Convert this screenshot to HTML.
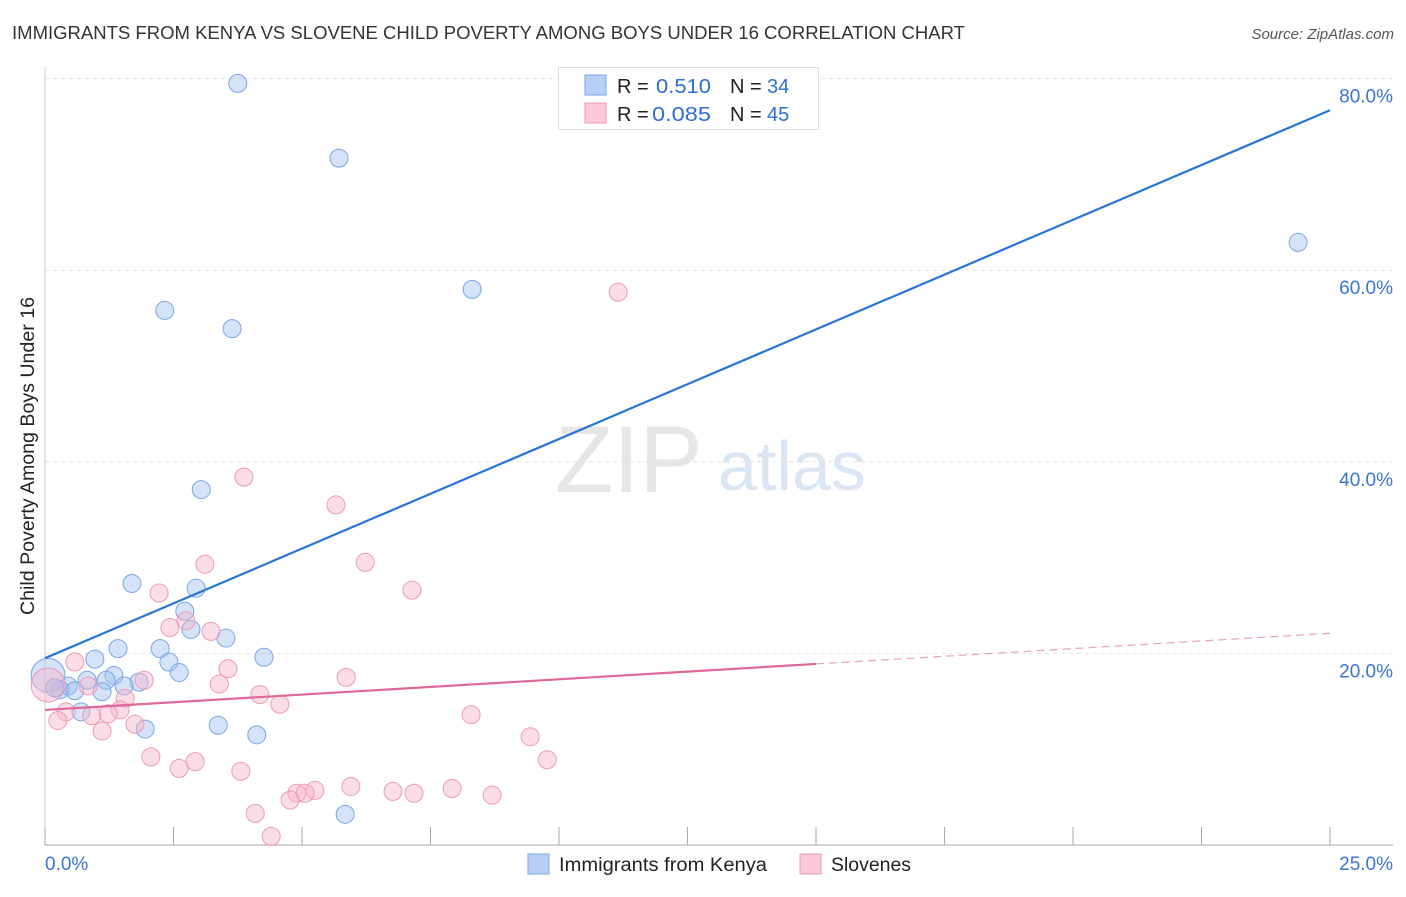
<!DOCTYPE html>
<html><head><meta charset="utf-8"><style>
body{margin:0;background:#fff;font-family:"Liberation Sans",sans-serif;}
svg text{font-family:"Liberation Sans",sans-serif;}
</style></head><body>
<svg id="chart" width="1406" height="892">
<text x="12" y="39" font-size="18" fill="#333" textLength="953" lengthAdjust="spacingAndGlyphs">IMMIGRANTS FROM KENYA VS SLOVENE CHILD POVERTY AMONG BOYS UNDER 16 CORRELATION CHART</text>
<text x="1394" y="39" font-size="15" fill="#555" text-anchor="end" font-style="italic">Source: ZipAtlas.com</text>
<text x="34" y="456" font-size="19" fill="#222" text-anchor="middle" textLength="318" lengthAdjust="spacingAndGlyphs" transform="rotate(-90 34 456)">Child Poverty Among Boys Under 16</text>
<text x="555" y="492" font-size="95" fill="#e6e6e6" font-family="Liberation Serif">ZIP</text>
<text x="718" y="490" font-size="70" fill="#dbe6f5">atlas</text>
<g id="grid"></g><g id="marks"></g>
<g>
<rect x="558.5" y="67.5" width="260" height="62" fill="#fff" stroke="#ddd"/>
<rect x="585" y="75" width="21" height="20" fill="#b8d0f5" stroke="#7aa6e8"/>
<rect x="585" y="103" width="21" height="20" fill="#fbc8d8" stroke="#ee9ab5"/>
<text x="617" y="93" font-size="20" fill="#222">R = </text><text x="656" y="93" font-size="20" fill="#2f6fd0" textLength="55" lengthAdjust="spacingAndGlyphs">0.510</text>
<text x="730" y="93" font-size="20" fill="#222">N = </text><text x="767" y="93" font-size="20" fill="#2f6fd0">34</text>
<text x="617" y="121" font-size="20" fill="#222">R = </text><text x="652" y="121" font-size="20" fill="#2f6fd0" textLength="59" lengthAdjust="spacingAndGlyphs">0.085</text>
<text x="730" y="121" font-size="20" fill="#222">N = </text><text x="767" y="121" font-size="20" fill="#2f6fd0">45</text>
</g>
<g>
<rect x="528" y="854" width="21" height="20" fill="#b8d0f5" stroke="#7aa6e8"/>
<text x="559" y="871" font-size="19" fill="#222" textLength="208" lengthAdjust="spacingAndGlyphs">Immigrants from Kenya</text>
<rect x="800" y="854" width="21" height="20" fill="#fbc8d8" stroke="#ee9ab5"/>
<text x="831" y="871" font-size="19" fill="#222" textLength="80" lengthAdjust="spacingAndGlyphs">Slovenes</text>
</g>
</svg>
<script>
const yTicks=[20,40,60,80];
const yTickLabels=["20.0%","40.0%","60.0%","80.0%"];
const xTicks=[0,2.5,5,7.5,10,12.5,15,17.5,20,22.5,25];
const kenyaX=[3.75,5.72,24.38,8.31,2.33,3.64,3.04,1.69,2.94,2.72,2.84,3.52,2.24,1.42,4.26,0.97,2.41,2.61,1.34,0.82,1.19,1.83,1.54,0.45,0.06,0.29,0.58,1.11,0.70,3.37,1.95,4.12,5.84,0.19];
const kenyaY=[79.5,71.7,62.9,58.0,55.8,53.9,37.1,27.3,26.8,24.4,22.5,21.6,20.5,20.5,19.6,19.4,19.1,18.0,17.7,17.2,17.2,17.0,16.6,16.6,17.7,16.2,16.1,16.0,13.9,12.5,12.1,11.5,3.2,16.4];
const sloX=[11.15,3.87,5.66,6.23,3.11,7.14,2.22,2.74,2.43,3.23,3.56,1.93,0.58,5.86,0.84,3.39,0.06,4.18,1.56,4.57,0.41,1.46,0.25,1.23,0.91,8.29,1.75,1.11,9.44,2.06,9.77,2.92,2.61,3.81,5.95,5.25,4.90,5.06,4.77,6.77,7.18,7.92,8.70,4.09,4.40];
const sloY=[57.7,38.4,35.5,29.5,29.3,26.6,26.3,23.4,22.7,22.3,18.4,17.2,19.1,17.5,16.6,16.8,16.7,15.7,15.3,14.7,13.9,14.1,13.0,13.7,13.5,13.6,12.6,11.9,11.3,9.2,8.9,8.7,8.0,7.7,6.1,5.7,5.4,5.4,4.7,5.6,5.4,5.9,5.2,3.3,0.9];
const kenyaBig=[24];
const sloBig=[16];
const kenyaLine=[19.5,76.7];
const sloLine=[14.1,22.1];
const sloSolidEnd=15.0;

const NS="http://www.w3.org/2000/svg";
const sx=v=>45+v*(1285/25);
const sy=v=>845-v*9.58;
function mk(tag,attrs,parent){const e=document.createElementNS(NS,tag);for(const k in attrs)e.setAttribute(k,attrs[k]);parent.appendChild(e);return e;}
const grid=document.getElementById('grid'),marks=document.getElementById('marks');
yTicks.forEach((t,i)=>{
 const l=mk('line',{x1:45,x2:1393,y1:sy(t),y2:sy(t),stroke:'#e2e2e2','stroke-dasharray':'4,4'},grid);
 
 
 const tx=mk('text',{x:1393,y:sy(t)+24,'font-size':19,fill:'#3a75d0','text-anchor':'end'},grid);
 tx.textContent=yTickLabels[i];
 
 
});
const ax=mk('line',{x1:45,x2:1393,y1:845,y2:845,stroke:'#aaa'},grid);


const ay=mk('line',{x1:45,x2:45,y1:67,y2:845,stroke:'#ccc'},grid);


xTicks.forEach(t=>{
 const l=mk('line',{x1:sx(t),x2:sx(t),y1:827,y2:845,stroke:'#aaa'},grid);
 
 
});
const x0=mk('text',{x:45,y:870,'font-size':19,fill:'#3a75d0'},grid);x0.textContent="0.0%";


const x1=mk('text',{x:1393,y:870,'font-size':19,fill:'#3a75d0','text-anchor':'end'},grid);x1.textContent="25.0%";



kenyaX.forEach((x,i)=>{
 const c=mk('circle',{cx:sx(x),cy:sy(kenyaY[i]),r:kenyaBig.includes(i)?17:9,fill:'rgba(160,192,240,0.45)',stroke:'#7aa6e8','stroke-width':1},marks);
 
 
});
sloX.forEach((x,i)=>{
 const c=mk('circle',{cx:sx(x),cy:sy(sloY[i]),r:sloBig.includes(i)?17:9,fill:'rgba(247,180,202,0.45)',stroke:'#ee9ab5','stroke-width':1},marks);
 
 
});
const bl=mk('line',{x1:sx(0),y1:sy(kenyaLine[0]),x2:sx(25),y2:sy(kenyaLine[1]),stroke:'#2a74d8','stroke-width':2.2},marks);


const pAt=x=>sloLine[0]+(sloLine[1]-sloLine[0])*x/25;
const pl=mk('line',{x1:sx(0),y1:sy(pAt(0)),x2:sx(sloSolidEnd),y2:sy(pAt(sloSolidEnd)),stroke:'#e0679a','stroke-width':2.2},marks);


const pd=mk('line',{x1:sx(sloSolidEnd),y1:sy(pAt(sloSolidEnd)),x2:sx(25),y2:sy(pAt(25)),stroke:'#e8a0bc','stroke-width':1.2,'stroke-dasharray':'8,5'},marks);


</script>
</body></html>
